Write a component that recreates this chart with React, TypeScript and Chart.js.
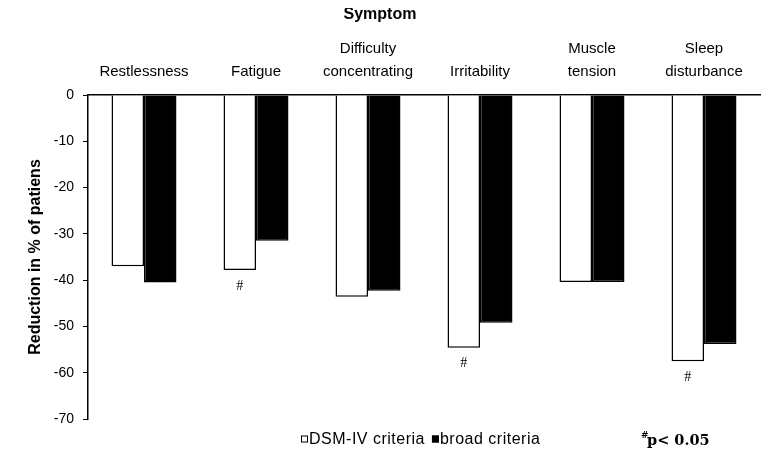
import React, { useEffect, useRef } from "react";
import { Chart, registerables } from "chart.js";

Chart.register(...registerables);

const categories: string[][] = [
  ["Restlessness"],
  ["Fatigue"],
  ["Difficulty", "concentrating"],
  ["Irritability"],
  ["Muscle", "tension"],
  ["Sleep", "disturbance"],
];
const seriesLabels = ["DSM-IV criteria", "broad criteria"];
const dsmIV = [-37, -37.8, -43.6, -54.6, -40.4, -57.5];
const broad = [-40.5, -31.5, -42.3, -49.2, -40.4, -53.8];
const significant = [false, true, false, true, false, true];
const yMin = -70;
const yMax = 0;
const yStep = 10;
const titleText = "Symptom";
const yTitle = "Reduction in % of patiens";
const noteText = "p< 0.05";

const SANS = "'Liberation Sans', Arial, sans-serif";

const overlay = {
  id: "overlay",
  afterDatasetsDraw(chart: any) {
    const ctx = chart.ctx;
    ctx.save();
    ctx.fillStyle = "#000";
    ctx.font = `14px 'Liberation Serif', serif`;
    ctx.textAlign = "center";
    ctx.textBaseline = "middle";
    const meta = chart.getDatasetMeta(0);
    significant.forEach((s, i) => {
      if (!s) return;
      const el = meta.data[i];
      ctx.fillText("#", el.x, el.y + 16);
    });
    ctx.restore();
  },
  afterDraw(chart: any) {
    const ctx = chart.ctx;
    ctx.save();
    const y = 439;
    let x = 301;
    ctx.font = `16px ${SANS}`;
    (ctx as any).letterSpacing = "0.5px";
    ctx.textBaseline = "middle";
    ctx.textAlign = "left";
    chart.data.datasets.forEach((ds: any) => {
      ctx.fillStyle = ds.backgroundColor;
      ctx.strokeStyle = "#000";
      ctx.lineWidth = 1;
      ctx.fillRect(x, y - 3.5, 7, 7);
      ctx.strokeRect(x + 0.5, y - 3, 6, 6);
      x += 8;
      ctx.fillStyle = "#000";
      ctx.fillText(ds.label, x, y + 1);
      x += ctx.measureText(ds.label).width + 7;
    });
    (ctx as any).letterSpacing = "0px";
    ctx.font = `bold 9px 'DejaVu Serif', serif`;
    ctx.fillText("#", 641, y - 3);
    ctx.font = `bold 14.5px 'DejaVu Serif', serif`;
    ctx.fillText(noteText, 647, y + 2);
    ctx.restore();
  },
};

export default function App() {
  const ref = useRef<HTMLCanvasElement | null>(null);
  useEffect(() => {
    if (!ref.current) return;
    const chart = new Chart(ref.current, {
      type: "bar",
      data: {
        labels: categories,
        datasets: [
          {
            label: seriesLabels[0],
            data: dsmIV,
            backgroundColor: "#ffffff",
            borderColor: "#000000",
            borderWidth: 1.5,
            categoryPercentage: 0.58,
            barPercentage: 1,
          },
          {
            label: seriesLabels[1],
            data: broad,
            backgroundColor: "#000000",
            borderColor: "#000000",
            borderWidth: 1.5,
            categoryPercentage: 0.58,
            barPercentage: 1,
          },
        ],
      },
      options: {
        animation: false,
        responsive: true,
        maintainAspectRatio: false,
        layout: { padding: { left: 0, right: 21, top: 0, bottom: 43 } },
        plugins: {
          legend: { display: false },
          tooltip: { enabled: false },
          title: {
            display: true,
            text: titleText,
            color: "#000",
            align: "center",
            font: { family: SANS, size: 16, weight: "bold", lineHeight: 1 },
            padding: { top: 7, bottom: 0 },
          },
        },
        scales: {
          x: {
            position: "top",
            grid: { display: true, drawOnChartArea: false, drawTicks: false },
            border: { display: true, color: "#000", width: 1.5 },
            ticks: {
              color: "#000",
              font: { family: SANS, size: 15, lineHeight: 1.5 },
              padding: 12,
              maxRotation: 0,
              autoSkip: false,
            },
            afterFit: (s: any) => {
              s.height = 72;
            },
          },
          y: {
            min: yMin,
            max: yMax,
            grid: {
              display: true,
              drawOnChartArea: false,
              drawTicks: true,
              tickLength: 5,
              color: "#000",
            },
            border: { display: true, color: "#000", width: 1.5 },
            ticks: {
              stepSize: yStep,
              color: "#000",
              font: { family: SANS, size: 14 },
              padding: 9,
            },
            title: {
              display: true,
              text: yTitle,
              color: "#000",
              font: { family: SANS, size: 16, weight: "bold" },
              padding: { top: 26, bottom: 0 },
            },
            afterFit: (s: any) => {
              s.width = 88;
            },
          },
        },
      },
      plugins: [overlay],
    });
    return () => chart.destroy();
  }, []);
  return (
    <div style={{ width: 781, height: 462, margin: "-8px 0 0 -8px", position: "relative" }}>
      <canvas ref={ref} />
    </div>
  );
}
